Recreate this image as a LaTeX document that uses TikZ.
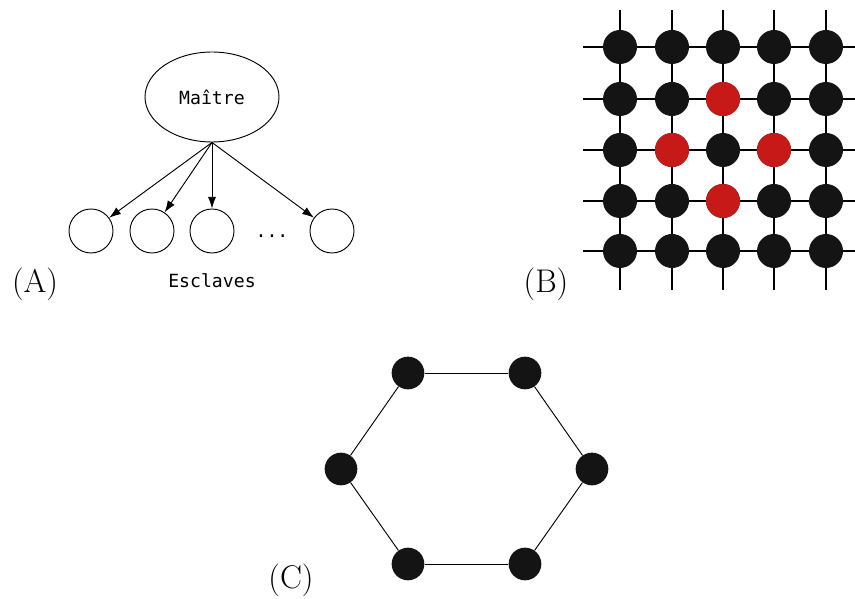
\documentclass[tikz,border=0pt]{standalone}
\usepackage{xcolor}
\usepackage{fontspec}
\newfontfamily\nodemono{DejaVu Sans Mono}
\usepackage{tikz}
\usetikzlibrary{shapes.geometric, arrows.meta, positioning}

\definecolor{nodered}{RGB}{200,25,25}
\definecolor{nodeblack}{RGB}{20,20,20}

\begin{document}
\begin{tikzpicture}[
		x=0.03cm, y=-0.03cm,
		% Defining consistent styles
		masterbox/.style={
				ellipse,
				draw=black,
				line width=0.8pt,
				minimum width=4.02cm,
				minimum height=2.7cm,
				inner sep=0pt,
				font=\nodemono\fontsize{15.5}{18}\selectfont
			},
		slavebox/.style={
				circle,
				draw=black,
				line width=0.8pt,
				minimum size=1.32cm,
				inner sep=0pt
			},
		gridnode/.style={
				circle,
				fill=nodeblack,
				minimum size=1.02cm,
				inner sep=0pt
			},
		rednode/.style={
				gridnode,
				fill=nodered
			},
		ringnode/.style={
				circle,
				fill=nodeblack,
				minimum size=0.98cm,
				inner sep=0pt
			},
		monolabel/.style={
				font=\nodemono\fontsize{15.5}{18}\selectfont
			},
		partlabel/.style={
				font=\fontsize{28}{32}\selectfont
			},
		% Defining line styles
		arrow/.style={
				-{Latex[length=10pt,width=7pt]},
				line width=0.8pt,
				draw=black
			},
		gridline/.style={
				line width=1pt,
				draw=black
			},
		ringline/.style={
				line width=0.8pt,
				draw=black
			}
		]

		\useasboundingbox (0,0) rectangle (855,599);

		% Master / slaves (A)
		\node[masterbox] (maitre) at (212,97) {Maître};

		\node[slavebox] (esclave_1) at (91,231) {};
		\node[slavebox] (esclave_2) at (152,231) {};
		\node[slavebox] (esclave_3) at (212,231) {};
		\node[monolabel] (dots) at (272,236) {...};
		\node[slavebox] (esclave_n) at (332,231) {};

		\node[monolabel] (esclaves) at (212,281) {Esclaves};
		\node[partlabel] (label_a) at (35,284) {(A)};

		\draw[arrow] (maitre.south) -- (esclave_1);
		\draw[arrow] (maitre.south) -- (esclave_2);
		\draw[arrow] (maitre.south) -- (esclave_3);
		\draw[arrow] (maitre.south) -- (esclave_n);

		% Grid (B)
		\foreach \r/\yy in {1/47, 2/99, 3/150, 4/201, 5/251} {
				\coordinate (row_left_\r) at (583,\yy);
				\coordinate (row_right_\r) at (855,\yy);
				\draw[gridline] (row_left_\r) -- (row_right_\r);
			}
		\foreach \c/\xx in {1/620, 2/672, 3/723, 4/774, 5/826} {
				\coordinate (col_top_\c) at (\xx,10);
				\coordinate (col_bottom_\c) at (\xx,290);
				\draw[gridline] (col_top_\c) -- (col_bottom_\c);
			}
		\foreach \r/\yy in {1/47, 2/99, 3/150, 4/201, 5/251} {
				\foreach \c/\xx in {1/620, 2/672, 3/723, 4/774, 5/826} {
						\node[gridnode] (grid_\r_\c) at (\xx,\yy) {};
					}
			}

		% Neighbours
		\node[rednode] (grid_2_3) at (723,99) {};
		\node[rednode] (grid_3_2) at (672,150) {};
		\node[rednode] (grid_3_4) at (774,150) {};
		\node[rednode] (grid_4_3) at (723,201) {};

		\node[partlabel] (label_b) at (546,284) {(B)};

		% Ring (C)
		\node[ringnode] (ring_1) at (408,373) {};
		\node[ringnode] (ring_2) at (525,373) {};
		\node[ringnode] (ring_3) at (592,469) {};
		\node[ringnode] (ring_4) at (525,564) {};
		\node[ringnode] (ring_5) at (408,564) {};
		\node[ringnode] (ring_6) at (341,469) {};

		\node[partlabel] (label_c) at (291,580) {(C)};

		\draw[ringline] (ring_1) -- (ring_2);
		\draw[ringline] (ring_2) -- (ring_3);
		\draw[ringline] (ring_3) -- (ring_4);
		\draw[ringline] (ring_4) -- (ring_5);
		\draw[ringline] (ring_5) -- (ring_6);
		\draw[ringline] (ring_6) -- (ring_1);

	\end{tikzpicture}
\end{document}
